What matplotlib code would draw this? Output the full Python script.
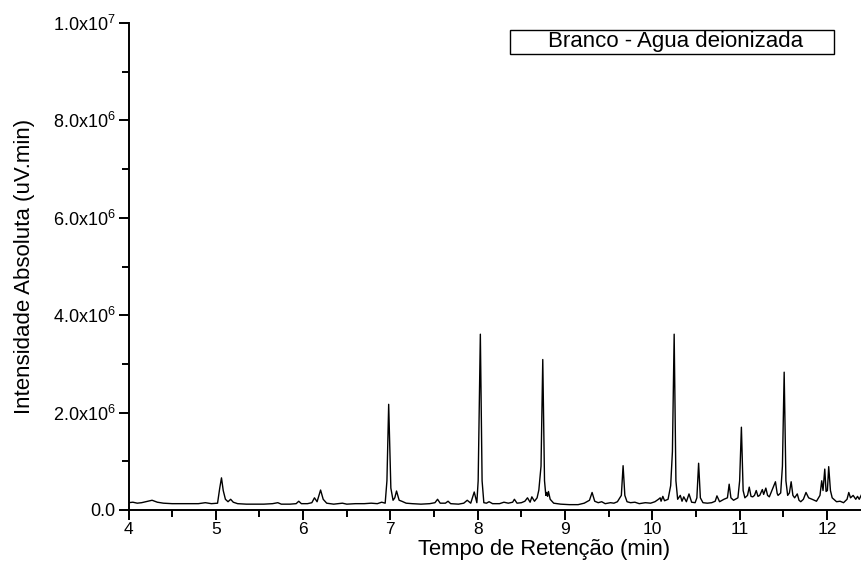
import numpy as np
import matplotlib
matplotlib.use("Agg")
import matplotlib.pyplot as plt
from matplotlib.ticker import MultipleLocator, FuncFormatter
from matplotlib.patches import Rectangle

plt.rcParams['font.family'] = ['Liberation Sans', 'DejaVu Sans']
plt.rcParams['mathtext.default'] = 'regular'

# retention time (min) and intensity (x1e6 uV.min), read point by point
tempo = [4.00, 4.05, 4.10, 4.15, 4.20, 4.27, 4.33, 4.40, 4.50, 4.60, 4.70, 4.80, 4.88, 4.95,
         5.02, 5.045, 5.065, 5.085, 5.11, 5.14, 5.17, 5.20, 5.25, 5.35, 5.45, 5.55, 5.65, 5.71,
         5.75, 5.85, 5.92, 5.95, 5.98, 6.05, 6.10, 6.13, 6.16, 6.20, 6.23, 6.27, 6.35, 6.45,
         6.50, 6.60, 6.70, 6.78, 6.85, 6.90, 6.94, 6.96, 6.98, 7.005, 7.03, 7.05, 7.07, 7.10,
         7.13, 7.18, 7.25, 7.35, 7.45, 7.51, 7.54, 7.57, 7.63, 7.66, 7.69, 7.78, 7.84, 7.88,
         7.92, 7.96, 7.99, 8.005, 8.03, 8.05, 8.07, 8.10, 8.13, 8.17, 8.25, 8.30, 8.35, 8.40,
         8.42, 8.45, 8.50, 8.54, 8.57, 8.60, 8.62, 8.65, 8.68, 8.70, 8.725, 8.745, 8.765, 8.78,
         8.79, 8.80, 8.81, 8.83, 8.87, 8.95, 9.05, 9.15, 9.22, 9.28, 9.31, 9.34, 9.38, 9.42,
         9.46, 9.52, 9.56, 9.60, 9.645, 9.665, 9.685, 9.71, 9.75, 9.80, 9.85, 9.92, 9.98, 10.03,
         10.07, 10.09, 10.10, 10.12, 10.14, 10.18, 10.21, 10.23, 10.25, 10.27, 10.29, 10.32,
         10.34, 10.36, 10.39, 10.42, 10.45, 10.49, 10.51, 10.53, 10.55, 10.58, 10.63, 10.68,
         10.72, 10.74, 10.77, 10.80, 10.82, 10.86, 10.88, 10.90, 10.93, 10.98, 11.00, 11.02,
         11.04, 11.06, 11.09, 11.11, 11.13, 11.15, 11.17, 11.19, 11.21, 11.23, 11.26, 11.275,
         11.30, 11.32, 11.34, 11.38, 11.41, 11.43, 11.44, 11.47, 11.49, 11.51, 11.53, 11.55,
         11.57, 11.59, 11.61, 11.63, 11.66, 11.68, 11.70, 11.73, 11.76, 11.79, 11.83, 11.88,
         11.92, 11.94, 11.955, 11.975, 11.99, 12.005, 12.02, 12.04, 12.06, 12.11, 12.15, 12.19,
         12.23, 12.25, 12.27, 12.30, 12.33, 12.35, 12.37, 12.40]
intensidade = [0.15, 0.16, 0.14, 0.15, 0.17, 0.20, 0.16, 0.14, 0.13, 0.13, 0.13, 0.13, 0.15, 0.13,
               0.14, 0.45, 0.66, 0.40, 0.22, 0.17, 0.22, 0.16, 0.13, 0.12, 0.12, 0.12, 0.13, 0.15,
               0.12, 0.12, 0.13, 0.18, 0.13, 0.13, 0.15, 0.25, 0.17, 0.41, 0.22, 0.14, 0.12, 0.14,
               0.12, 0.13, 0.13, 0.14, 0.13, 0.16, 0.14, 0.60, 2.17, 0.45, 0.20, 0.25, 0.39, 0.20,
               0.18, 0.14, 0.13, 0.12, 0.13, 0.15, 0.22, 0.14, 0.14, 0.18, 0.13, 0.12, 0.14, 0.20,
               0.14, 0.37, 0.15, 0.60, 3.61, 0.60, 0.15, 0.14, 0.17, 0.13, 0.13, 0.16, 0.14, 0.16,
               0.22, 0.14, 0.15, 0.18, 0.25, 0.16, 0.27, 0.18, 0.25, 0.41, 0.90, 3.09, 0.60, 0.30,
               0.36, 0.28, 0.38, 0.22, 0.14, 0.12, 0.11, 0.11, 0.14, 0.20, 0.36, 0.18, 0.15, 0.17,
               0.13, 0.15, 0.14, 0.17, 0.30, 0.91, 0.30, 0.17, 0.15, 0.16, 0.13, 0.15, 0.14, 0.17,
               0.22, 0.25, 0.18, 0.28, 0.19, 0.22, 0.50, 1.20, 3.61, 0.60, 0.22, 0.30,
               0.18, 0.27, 0.17, 0.33, 0.16, 0.15, 0.25, 0.96, 0.25, 0.15, 0.14, 0.15,
               0.18, 0.29, 0.17, 0.20, 0.22, 0.25, 0.53, 0.25, 0.20, 0.25, 0.60, 1.70,
               0.40, 0.25, 0.30, 0.47, 0.28, 0.27, 0.30, 0.40, 0.28, 0.30, 0.42, 0.32,
               0.45, 0.30, 0.27, 0.45, 0.58, 0.34, 0.30, 0.35, 0.90, 2.83, 0.60, 0.30,
               0.35, 0.58, 0.30, 0.25, 0.33, 0.20, 0.17, 0.22, 0.36, 0.25, 0.22, 0.18,
               0.30, 0.60, 0.40, 0.84, 0.38, 0.40, 0.89, 0.40, 0.25, 0.17, 0.18, 0.15,
               0.22, 0.36, 0.25, 0.30, 0.22, 0.28, 0.22, 0.33]

tempo = np.array(tempo)
intensidade = np.array(intensidade) * 1e6

fig = plt.figure(figsize=(8.61, 5.63), dpi=100)
W, H = 861, 563
ax = fig.add_axes([128.5 / W, 53 / H, 732.5 / W, 487 / H])

ax.plot(tempo, intensidade, color='black', lw=1.0)

ax.set_xlim(4, 12.39)
ax.set_ylim(0, 1e7)

for s in ['top', 'right']:
    ax.spines[s].set_visible(False)
for s in ['left', 'bottom']:
    ax.spines[s].set_linewidth(1.4)

ax.xaxis.set_major_locator(MultipleLocator(1))
ax.xaxis.set_minor_locator(MultipleLocator(0.5))
ax.yaxis.set_major_locator(MultipleLocator(2e6))
ax.yaxis.set_minor_locator(MultipleLocator(1e6))


def fmt_y(v, pos):
    if v <= 0:
        return '0.0'
    e = int(np.floor(np.log10(v)))
    return r'$%.1fx10^{%d}$' % (v / 10**e, e)


ax.yaxis.set_major_formatter(FuncFormatter(fmt_y))
ax.tick_params(which='major', direction='out', length=7.5, width=1.4, labelsize=13)
ax.tick_params(which='minor', direction='out', length=5, width=1.4)
ax.tick_params(axis='x', which='major', labelsize=12.5, pad=1.5)
ax.tick_params(axis='y', which='major', pad=2)

ax.set_xlabel('Tempo de Retenção (min)', fontsize=15.8)
ax.xaxis.set_label_coords(0.567, -0.059)
ax.set_ylabel('Intensidade Absoluta (uV.min)', fontsize=16)
ax.yaxis.set_label_coords(-0.128, 0.5)

# sample label box
fig.patches.append(Rectangle((510 / W, 1 - 54 / H), 324 / W, 24 / H, transform=fig.transFigure,
                             fill=False, ec='black', lw=1))
fig.text(676 / W, 1 - 42 / H, 'Branco - Agua deionizada', fontsize=16, ha='center', va='center')

fig.savefig('out.png', dpi=100)
